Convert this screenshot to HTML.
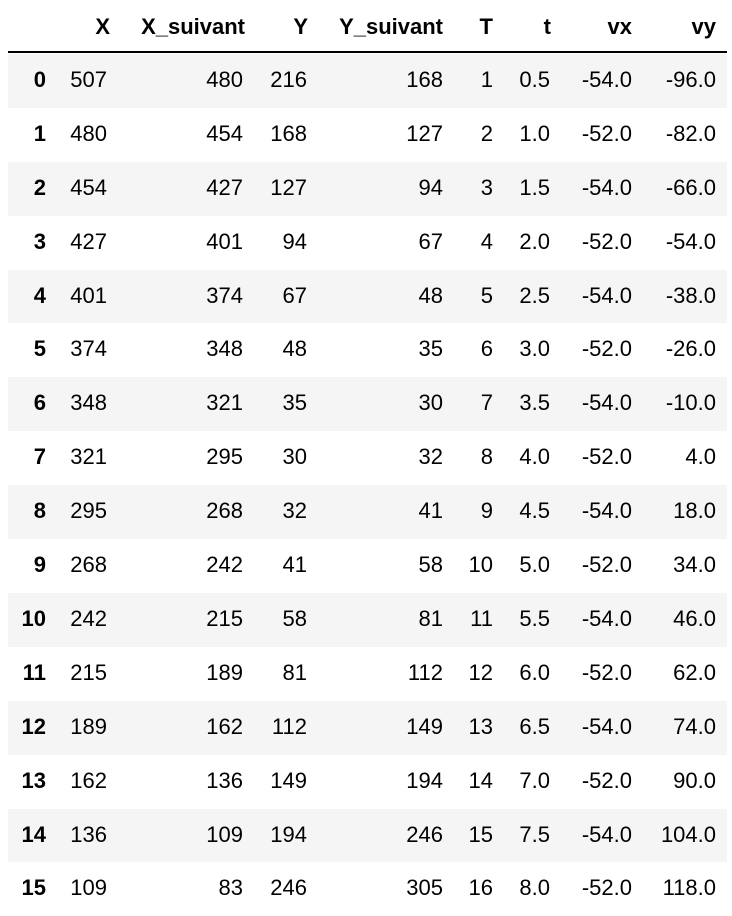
<!DOCTYPE html>
<html><head><meta charset="utf-8">
<style>
body{margin:0;width:732px;height:916px;background:#fff;overflow:hidden;font-family:"Liberation Sans",Arial,sans-serif;color:#000;}
#t{position:absolute;left:0;top:0;width:732px;height:916px;}
.c{position:absolute;font-size:22px;line-height:22px;white-space:nowrap;}
.h{font-weight:bold;}
.stripe{position:absolute;left:8px;width:719px;background:#f5f5f5;}
#rule{position:absolute;left:8px;top:51px;width:719px;height:2px;background:#000;}
</style></head>
<body>
<div id="t"><div id="rule"></div></div>
<script>
const headers=["X","X_suivant","Y","Y_suivant","T","t","vx","vy"];
const colX=[507,480,454,427,401,374,348,321,295,268,242,215,189,162,136,109];
const colXs=[480,454,427,401,374,348,321,295,268,242,215,189,162,136,109,83];
const colY=[216,168,127,94,67,48,35,30,32,41,58,81,112,149,194,246];
const colYs=[168,127,94,67,48,35,30,32,41,58,81,112,149,194,246,305];
const colT=[1,2,3,4,5,6,7,8,9,10,11,12,13,14,15,16];
const colt=["0.5","1.0","1.5","2.0","2.5","3.0","3.5","4.0","4.5","5.0","5.5","6.0","6.5","7.0","7.5","8.0"];
const colvx=["-54.0","-52.0","-54.0","-52.0","-54.0","-52.0","-54.0","-52.0","-54.0","-52.0","-54.0","-52.0","-54.0","-52.0","-54.0","-52.0"];
const colvy=["-96.0","-82.0","-66.0","-54.0","-38.0","-26.0","-10.0","4.0","18.0","34.0","46.0","62.0","74.0","90.0","104.0","118.0"];
const cols=[colX,colXs,colY,colYs,colT,colt,colvx,colvy];
const rightEdges=[110,245,308,443,493,551,632,716];
const valRight=[107,243,307,443,493,550,632,716];
const t=document.getElementById('t');
const rowTop=54,rowH=53.9;
function cell(txt,right,cy,bold,name){
  const d=document.createElement('div');
  d.className='c'+(bold?' h':'');
  d.textContent=txt;
  d.style.right=(732-right)+'px';
  d.style.top=(cy-11)+'px';
  
  
  t.appendChild(d);
}
headers.forEach((h,i)=>cell(h,rightEdges[i],27,true,'header-'+h.toLowerCase().replace('_','-')));
for(let r=0;r<16;r++){
  const top=rowTop+r*rowH;
  if(r%2===0){
    const s=document.createElement('div');
    s.className='stripe';
    s.style.top=top+'px';s.style.height=rowH+'px';
    
    
    t.insertBefore(s,t.firstChild);
  }
  const cy=top+rowH/2-1;
  cell(String(r),46,cy,true,'row-index');
  cols.forEach((c,i)=>cell(String(c[r]),valRight[i],cy,false,'cell-'+headers[i].toLowerCase().replace('_','-')));
}
</script>
</body></html>
